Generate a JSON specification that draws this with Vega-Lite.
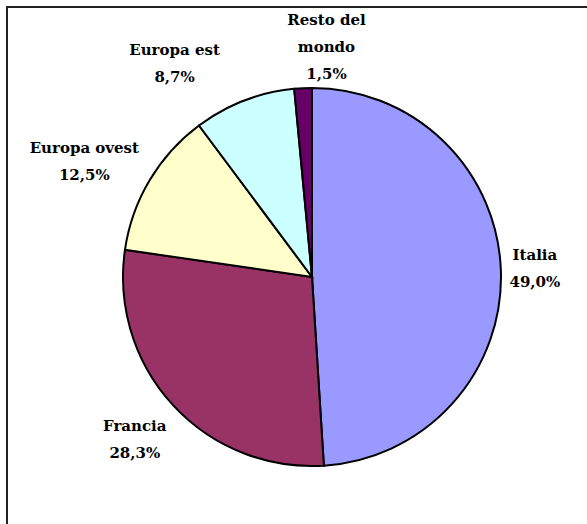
{
  "$schema": "https://vega.github.io/schema/vega-lite/v6.json",
  "autosize": "none",
  "width": 610,
  "height": 540,
  "padding": {"left": 7, "top": 7, "right": 0, "bottom": 0},
  "background": "white",
  "config": {
    "view": {"stroke": null},
    "text": {"font": "DejaVu Serif", "fontWeight": "bold", "fontSize": 15, "lineBreak": "\n", "lineHeight": 27, "align": "center", "baseline": "middle", "color": "black"}
  },
  "data": {
    "values": [
      {"n": 1, "paese": "Italia", "quota": 49.0, "etichetta": "Italia\n49,0%"},
      {"n": 2, "paese": "Francia", "quota": 28.3, "etichetta": "Francia\n28,3%"},
      {"n": 3, "paese": "Europa ovest", "quota": 12.5, "etichetta": "Europa ovest\n12,5%"},
      {"n": 4, "paese": "Europa est", "quota": 8.7, "etichetta": "Europa est\n8,7%"},
      {"n": 5, "paese": "Resto del mondo", "quota": 1.5, "etichetta": "Resto del\nmondo\n1,5%"}
    ]
  },
  "layer": [
    {
      "data": {"values": [{"cornice": 1}]},
      "mark": {"type": "rect", "fill": null, "fillOpacity": 0, "stroke": "#222222", "strokeWidth": 2},
      "encoding": {}
    },
    {
      "mark": {"type": "arc", "outerRadius": 189, "stroke": "black", "strokeWidth": 2},
      "encoding": {
        "theta": {"field": "quota", "type": "quantitative", "stack": true},
        "order": {"field": "n", "type": "quantitative"},
        "color": {
          "field": "paese",
          "type": "nominal",
          "scale": {
            "domain": ["Italia", "Francia", "Europa ovest", "Europa est", "Resto del mondo"],
            "range": ["#9999FF", "#993366", "#FFFFCC", "#CCFFFF", "#660066"]
          },
          "legend": null
        }
      }
    },
    {
      "mark": {"type": "text", "radius": 223, "dy": -15},
      "encoding": {
        "theta": {"field": "quota", "type": "quantitative", "stack": true},
        "order": {"field": "n", "type": "quantitative"},
        "text": {"condition": {"test": "datum.n == 1", "field": "etichetta"}, "value": ""}
      }
    },
    {
      "mark": {"type": "text", "radius": 241, "dy": -14},
      "encoding": {
        "theta": {"field": "quota", "type": "quantitative", "stack": true},
        "order": {"field": "n", "type": "quantitative"},
        "text": {"condition": {"test": "datum.n == 2", "field": "etichetta"}, "value": ""}
      }
    },
    {
      "mark": {"type": "text", "radius": 265, "dy": 7},
      "encoding": {
        "theta": {"field": "quota", "type": "quantitative", "stack": true},
        "order": {"field": "n", "type": "quantitative"},
        "text": {"condition": {"test": "datum.n == 3", "field": "etichetta"}, "value": ""}
      }
    },
    {
      "mark": {"type": "text", "radius": 235, "dx": -53, "dy": -8},
      "encoding": {
        "theta": {"field": "quota", "type": "quantitative", "stack": true},
        "order": {"field": "n", "type": "quantitative"},
        "text": {"condition": {"test": "datum.n == 4", "field": "etichetta"}, "value": ""}
      }
    },
    {
      "mark": {"type": "text", "radius": 245, "dx": 26, "dy": -12},
      "encoding": {
        "theta": {"field": "quota", "type": "quantitative", "stack": true},
        "order": {"field": "n", "type": "quantitative"},
        "text": {"condition": {"test": "datum.n == 5", "field": "etichetta"}, "value": ""}
      }
    }
  ]
}
